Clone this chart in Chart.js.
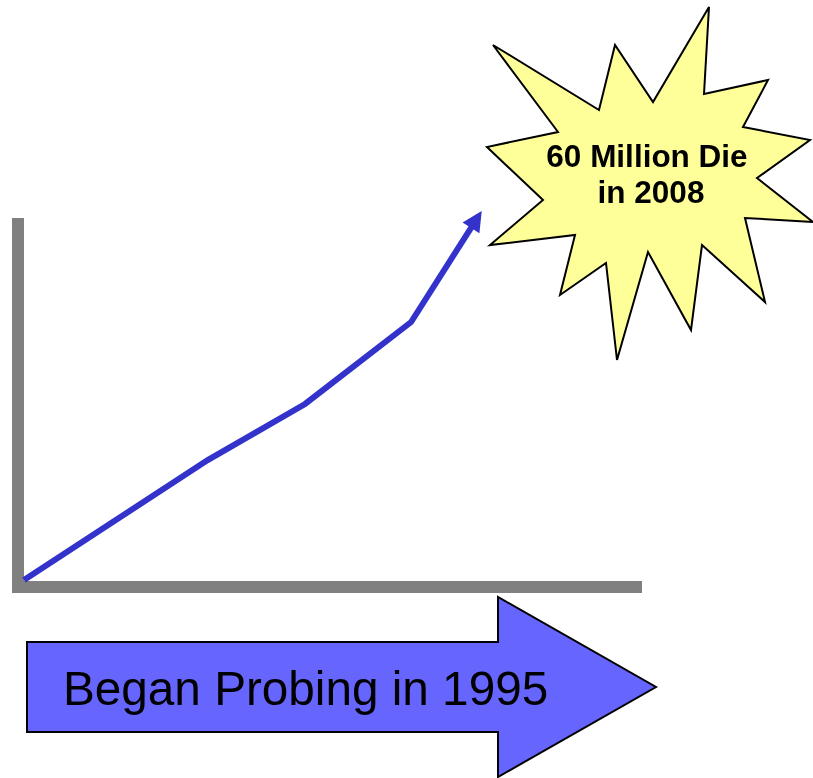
<!DOCTYPE html>
<html>
<head>
<meta charset="utf-8">
<title>60 Million Die in 2008</title>
<script src="https://cdn.jsdelivr.net/npm/chart.js@4"></script>
<style>
  html, body { margin: 0; padding: 0; background: #ffffff; }
  #wrap { position: relative; width: 813px; height: 778px; }
  #chart { position: absolute; left: 0; top: 0; }
  #shapes { position: absolute; left: 0; top: 0; pointer-events: none; }
  text { font-family: "Liberation Sans", Arial, sans-serif; }
</style>
</head>
<body>
<div id="wrap">
  <canvas id="chart" width="813" height="778"></canvas>
  <svg id="shapes" width="813" height="778" xmlns="http://www.w3.org/2000/svg">
    <polygon fill="#ffff99" stroke="#000000" stroke-width="2" stroke-linejoin="miter"
      points="493,45 599,110 615,45 653,102 709,7 704,94 768,80 743,127 810,140 757,178 813,222 745,218 765,302 702,245 691,330 648,252 617,360 606,263 560,295 575,235 490,245 543,200 487,147 558,132"/>
    <text x="647" y="167" text-anchor="middle" font-size="31.5" font-weight="bold" fill="#000000">60 Million Die</text>
    <text x="651" y="203" text-anchor="middle" font-size="31.5" font-weight="bold" fill="#000000">in 2008</text>

    <polygon fill="#6666ff" stroke="#000000" stroke-width="2"
      points="27,642 498,642 498,597 656,687 498,777 498,732 27,732"/>
    <text x="63" y="705" font-size="47.7" fill="#000000">Began Probing in 1995</text>
  </svg>
</div>
<script>
// values (abstract units, 0-100 on both axes)
const xValues = [0.96, 30.4, 46.0, 63.0, 73.8];
const yValues = [1.9, 34.4, 49.6, 71.8, 100.5];

const points = xValues.map((x, i) => ({ x: x, y: yValues[i] }));

// thick grey L-shaped axes
const axisBars = {
  id: "axisBars",
  beforeDatasetsDraw(chart) {
    const { ctx, chartArea } = chart;
    const w = 12;
    ctx.save();
    ctx.fillStyle = "#808080";
    ctx.fillRect(chartArea.left - w / 2, chartArea.top, w, chartArea.bottom - chartArea.top + w / 2);
    ctx.fillRect(chartArea.left - w / 2, chartArea.bottom - w / 2, chartArea.right - chartArea.left + w / 2, w);
    ctx.restore();
  },
};

// arrow head on the end of the line
const arrowHead = {
  id: "arrowHead",
  afterDatasetsDraw(chart) {
    const meta = chart.getDatasetMeta(0);
    const pts = meta.data;
    if (pts.length < 2) return;
    const a = pts[pts.length - 2];
    const b = pts[pts.length - 1];
    const dx = b.x - a.x, dy = b.y - a.y;
    const len = Math.sqrt(dx * dx + dy * dy);
    const ux = dx / len, uy = dy / len;
    const tipX = b.x + ux * 6, tipY = b.y + uy * 6;
    const headLen = 20, half = 10;
    const baseX = tipX - ux * headLen, baseY = tipY - uy * headLen;
    const ctx = chart.ctx;
    ctx.save();
    ctx.fillStyle = "#3333cc";
    ctx.beginPath();
    ctx.moveTo(tipX, tipY);
    ctx.lineTo(baseX - uy * half, baseY + ux * half);
    ctx.lineTo(baseX + uy * half, baseY - ux * half);
    ctx.closePath();
    ctx.fill();
    ctx.restore();
  },
};

new Chart(document.getElementById("chart"), {
  type: "line",
  data: {
    datasets: [
      {
        data: points,
        borderColor: "#3333cc",
        borderWidth: 6,
        pointRadius: 0,
        tension: 0,
        fill: false,
        clip: false,
        borderCapStyle: "butt",
        borderJoinStyle: "miter",
      },
    ],
  },
  options: {
    responsive: false,
    animation: false,
    devicePixelRatio: 1,
    layout: { padding: { left: 18, top: 218, right: 171, bottom: 191 } },
    plugins: { legend: { display: false }, tooltip: { enabled: false } },
    scales: {
      x: { type: "linear", min: 0, max: 100, display: false },
      y: { type: "linear", min: 0, max: 100, display: false },
    },
  },
  plugins: [axisBars, arrowHead],
});
</script>
</body>
</html>
